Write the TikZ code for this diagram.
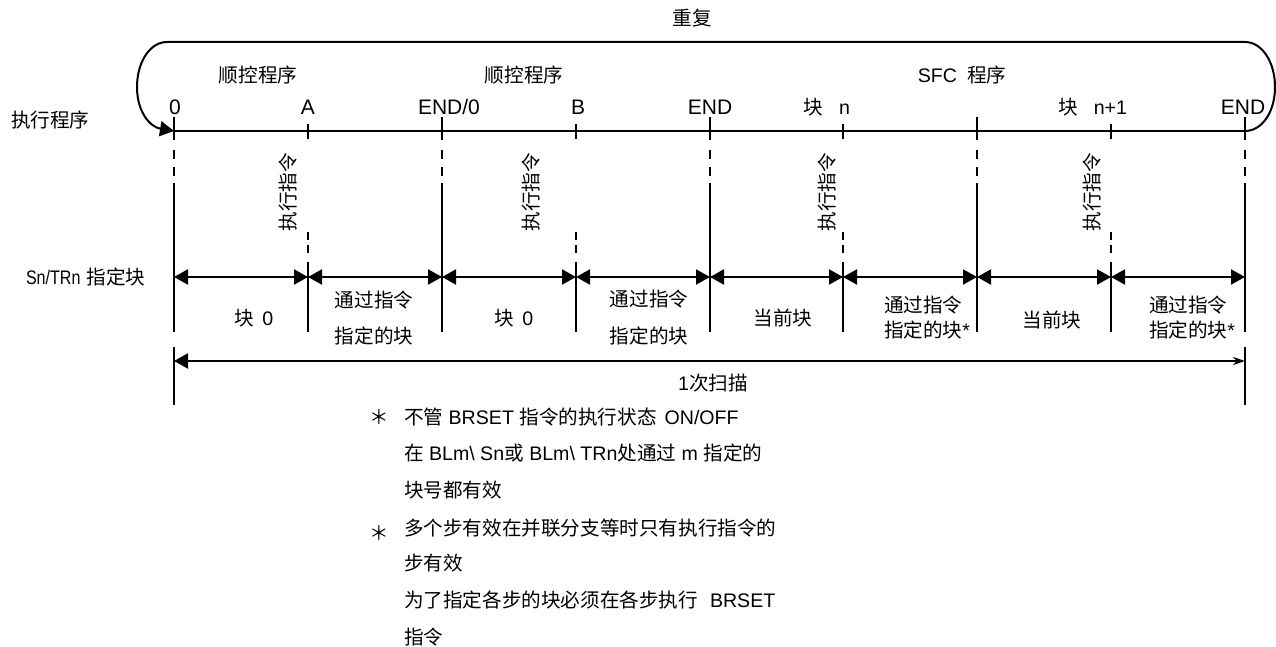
\documentclass[tikz,border=0pt]{standalone}
\usepackage{fontspec}
\setmainfont{Liberation Sans}
\newfontfamily\cjk{Noto Sans CJK SC}
\newcommand{\zh}[1]{{\cjk #1}}
\usetikzlibrary{arrows.meta}

\begin{document}
\begin{tikzpicture}[x=0.5pt, y=-0.5pt, line width=1pt, every node/.style={font=\fontsize{9.8}{11}\selectfont, inner sep=0pt}, >={Triangle[length=7pt, width=7.5pt]}]
	\tikzset{dim/.style={<->}, gaplong/.style={dash pattern=on 4.5pt off 4pt}, gapshort/.style={dash pattern=on 4pt off 2.5pt}, ticklbl/.style={font=\fontsize{10.5}{12}\selectfont}}
	\useasboundingbox (0,0) rectangle (1276,647);
	\foreach \x [count=\i from 0] in {174,308,442,576,710,843,977,1111,1245} {\coordinate (t\i) at (\x,131); \coordinate (r\i) at (\x,277);}
	\draw (t0) -- (t8);
	\draw[->] (t8) .. controls (1262,131) and (1275,112) .. (1275,87) .. controls (1275,62) and (1262,42) .. (1245,42) -- (167,42) .. controls (150,42) and (137,62) .. (137,87) .. controls (137,112) and (150,127) .. (t0);
	\foreach \x in {174,442,710,977,1245} {\draw (\x,117) -- (\x,140); \draw[gaplong] (\x,150) -- (\x,177); \draw (\x,183) -- (\x,332);}
	\foreach \x in {308,576,843,1111} {\draw (\x,124) -- (\x,139); \draw[gapshort] (\x,232) -- (\x,253); \draw (\x,262) -- (\x,332);}
	\foreach \i/\j in {0/1,1/2,2/3,3/4,4/5,5/6,6/7,7/8} {\draw[dim] (r\i) -- (r\j);}
	\coordinate (s0) at (174,361);
	\coordinate (s1) at (1245,361);
	\draw (174,347) -- (174,405);
	\draw (1245,347) -- (1245,405);
	\draw[{Triangle[length=7pt, width=7.5pt]}-{Stealth[length=6pt, width=4pt]}] (s0) -- (s1);
	\node (rep) at (692,18) {\zh{重复}};
	\node[anchor=west] (exec) at (10,120) {\zh{执行程序}};
	\node[anchor=west] (sel) at (25,277) {\scalebox{0.82}[1]{Sn/TRn}\hspace{3pt}\zh{指定块}};
	\node (seq1) at (258,75) {\zh{顺控程序}};
	\node (seq2) at (524,75) {\zh{顺控程序}};
	\node (sfc) at (962,75) {SFC\hspace{5pt}\zh{程序}};
	\node[ticklbl] (l0) at (175,107) {0};
	\node[ticklbl] (lA) at (308,107) {A};
	\node[ticklbl] (lE0) at (449,107) {END/0};
	\node[ticklbl] (lB) at (578,107) {B};
	\node[ticklbl] (lE1) at (710,107) {END};
	\node[anchor=east] (ln) at (851,107) {\zh{块}\hspace{8pt}n};
	\node[anchor=east] (ln1) at (1128,107) {\zh{块}\hspace{8pt}n+1};
	\node[ticklbl] (lE2) at (1243,107) {END};
	\foreach \x [count=\i] in {288,531,827,1092} {\node[rotate=90] (cmd\i) at (\x,192) {\zh{执行指令}};}
	\node (blk1) at (254,318) {\zh{块}\hspace{4pt}0};
	\node (via1) at (374,300) {\zh{通过指令}};
	\node (spec1) at (374,336) {\zh{指定的块}};
	\node (blk2) at (514,318) {\zh{块}\hspace{4pt}0};
	\node (via2) at (649,299) {\zh{通过指令}};
	\node (spec2) at (649,336) {\zh{指定的块}};
	\node (cur3) at (783,318) {\zh{当前块}};
	\node[anchor=west] (via3) at (883,305) {\zh{通过指令}};
	\node[anchor=west] (spec3) at (883,330) {\zh{指定的块}*};
	\node (cur4) at (1052,320) {\zh{当前块}};
	\node[anchor=west] (via4) at (1148,305) {\zh{通过指令}};
	\node[anchor=west] (spec4) at (1148,330) {\zh{指定的块}*};
	\node (scan) at (713,383) {1\zh{次扫描}};
	% notes
	\node (star1) at (379,417) {\zh{＊}};
	\node (star2) at (379,533) {\zh{＊}};
	\node[anchor=west] (note1) at (403,417) {\zh{不管} BRSET \zh{指令的执行状态}\hspace{4pt}ON/OFF};
	\node[anchor=west] (note2) at (403,453) {\zh{在} BLm\textbackslash{} Sn\zh{或} BLm\textbackslash{} TRn\zh{处通过} m \zh{指定的}};
	\node[anchor=west] (note3) at (403,490) {\zh{块号都有效}};
	\node[anchor=west] (note4) at (403,528) {\zh{多个步有效在并联分支等时只有执行指令的}};
	\node[anchor=west] (note5) at (403,563) {\zh{步有效}};
	\node[anchor=west] (note6) at (403,600) {\zh{为了指定各步的块必须在各步执行}\hspace{6pt}BRSET};
	\node[anchor=west] (note7) at (403,637) {\zh{指令}};
\end{tikzpicture}
\end{document}
